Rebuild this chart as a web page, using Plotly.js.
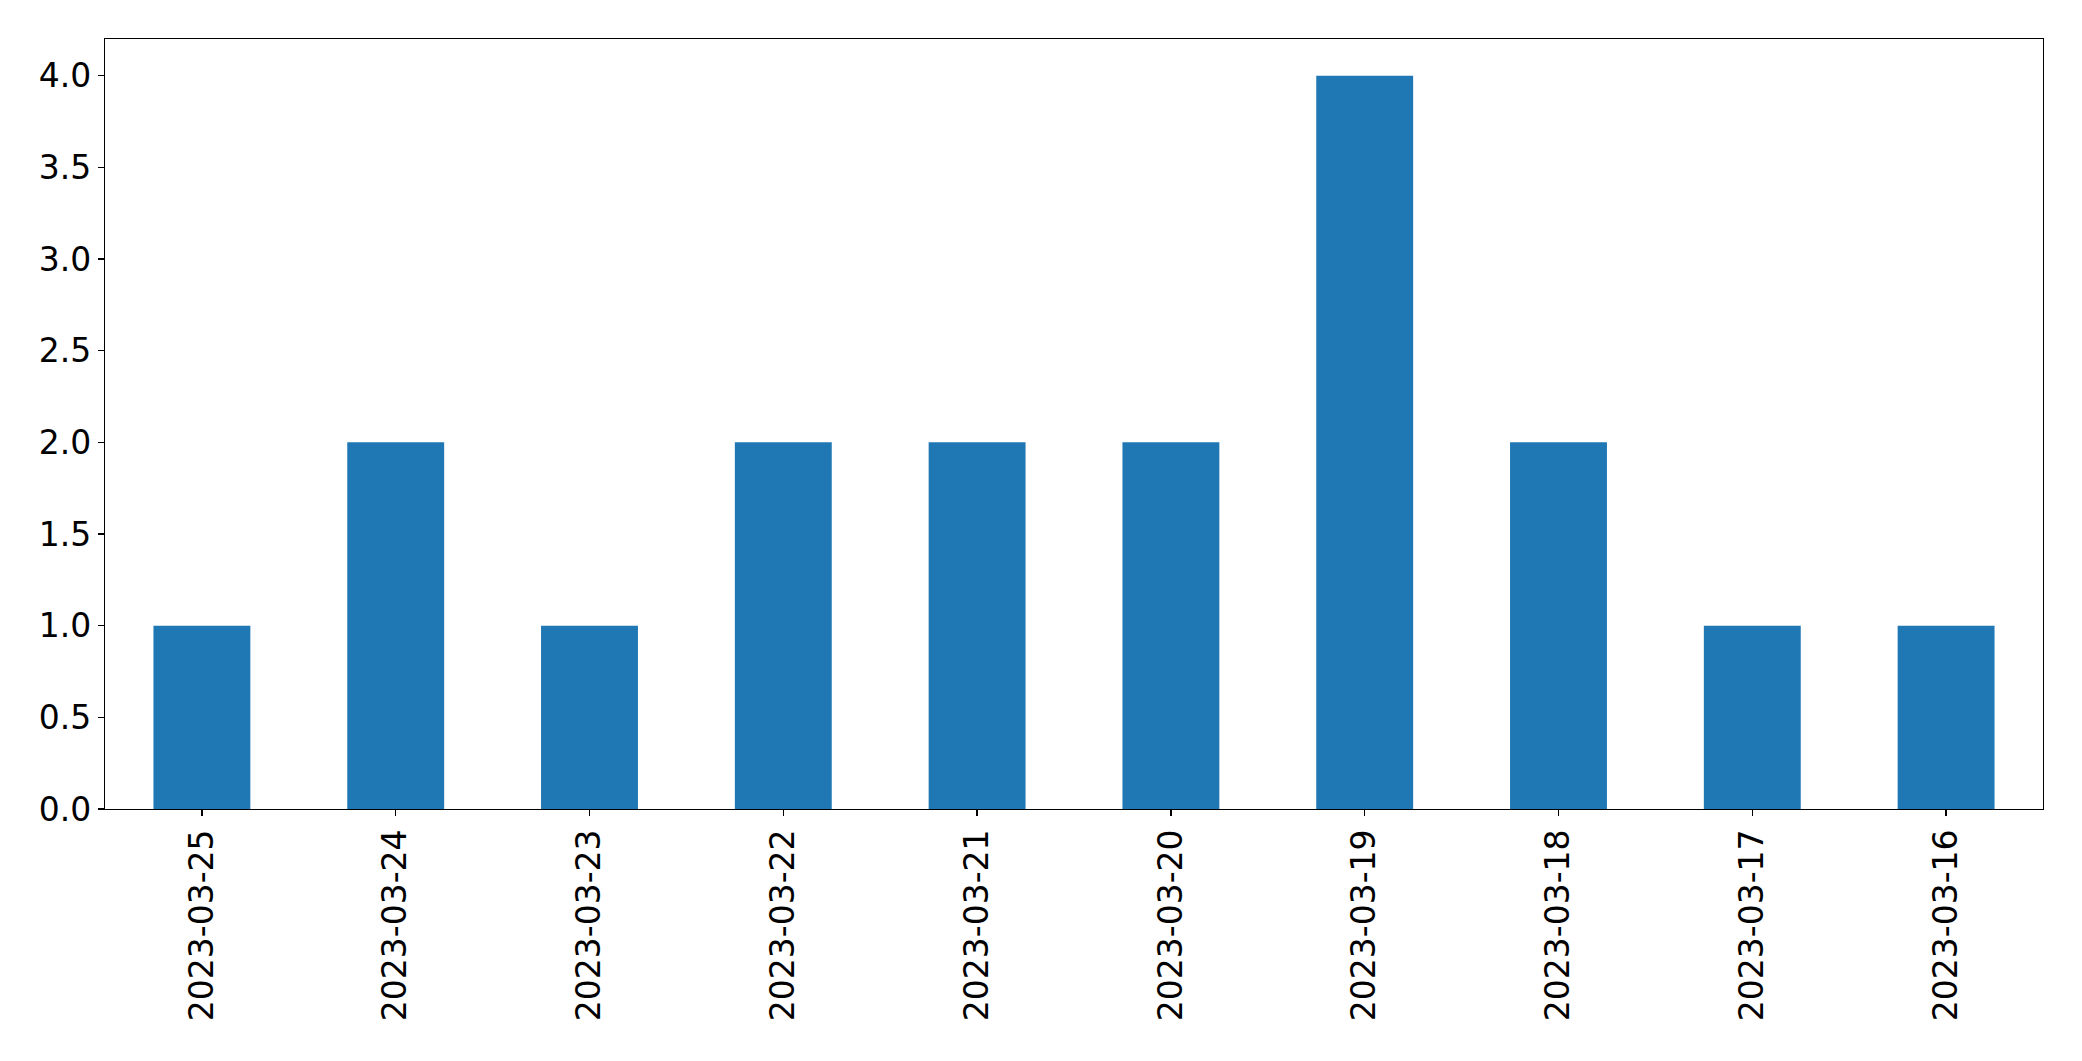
<!DOCTYPE html>
<html>
<head>
<meta charset="utf-8">
<script src="https://cdn.plot.ly/plotly-3.0.1.min.js"></script>
<style>html,body{margin:0;padding:0;background:#fff;}#chart{width:2082px;height:1061px;}</style>
</head>
<body>
<div id="chart"></div>
<script>
const dates = ["2023-03-25","2023-03-24","2023-03-23","2023-03-22","2023-03-21","2023-03-20","2023-03-19","2023-03-18","2023-03-17","2023-03-16"];
const counts = [1, 2, 1, 2, 2, 2, 4, 2, 1, 1];
const yTicks = [0, 0.5, 1, 1.5, 2, 2.5, 3, 3.5, 4];
const yTickLabels = ["0.0","0.5","1.0","1.5","2.0","2.5","3.0","3.5","4.0"];

const trace = {
  type: "bar",
  x: dates,
  y: counts,
  marker: {color: "#1f77b4"},
  hoverinfo: "x+y"
};

const layout = {
  width: 2082,
  height: 1061,
  margin: {l: 105, r: 39, t: 39, b: 252},
  paper_bgcolor: "#ffffff",
  plot_bgcolor: "#ffffff",
  bargap: 0.5,
  showlegend: false,
  font: {family: "DejaVu Sans", size: 33, color: "#000000"},
  xaxis: {
    type: "category",
    range: [-0.5, 9.5],
    tickangle: -90,
    showgrid: false,
    zeroline: false,
    showline: true,
    linecolor: "#000000",
    linewidth: 1.2,
    mirror: true,
    ticks: "outside",
    ticklen: 6,
    tickwidth: 1.2,
    tickcolor: "#000000",
    tickfont: {family: "DejaVu Sans", size: 33, color: "#000000"}
  },
  yaxis: {
    range: [0, 4.2],
    tickvals: yTicks,
    ticktext: yTickLabels,
    showgrid: false,
    zeroline: false,
    showline: true,
    linecolor: "#000000",
    linewidth: 1.2,
    mirror: true,
    ticks: "outside",
    ticklen: 6,
    tickwidth: 1.2,
    tickcolor: "#000000",
    tickfont: {family: "DejaVu Sans", size: 33, color: "#000000"}
  }
};

Plotly.newPlot("chart", [trace], layout, {displayModeBar: false, staticPlot: true});
</script>
</body>
</html>
